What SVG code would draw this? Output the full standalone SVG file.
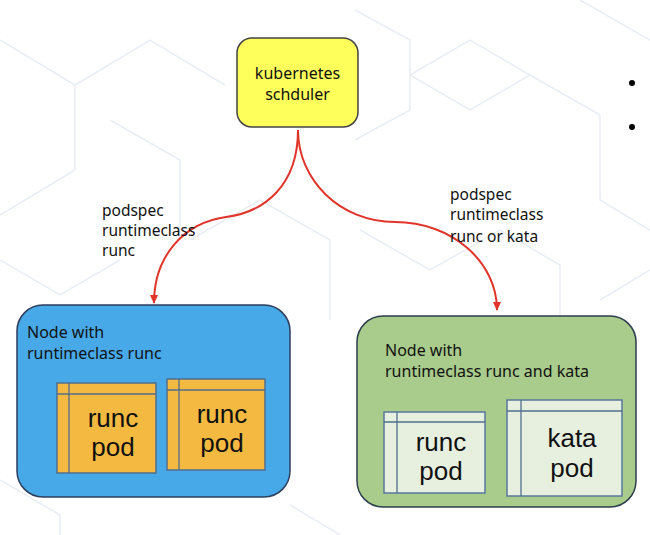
<svg xmlns="http://www.w3.org/2000/svg" width="650" height="535" viewBox="0 0 650 535">
<defs>
<marker id="ah" markerWidth="10" markerHeight="10" refX="8" refY="5" orient="auto" markerUnits="userSpaceOnUse">
<path d="M0,1 L9,5 L0,9 Z" fill="#e0352b"/>
</marker>
<style>
.bg{fill:none;stroke:#e9eef5;stroke-width:1.5}
.t{font-family:"Noto Sans","Open Sans",sans-serif;fill:#111}
.lbl{font-size:15.5px}
.pt{font-family:"Liberation Sans",Arial,sans-serif;font-size:26px;text-anchor:middle;fill:#111}
.edge{fill:none;stroke:#e0352b;stroke-width:2;marker-end:url(#ah)}
.pod1{fill:#f4b940;stroke:#4f6f8f;stroke-width:1.5}
.pod2{fill:#e7efdf;stroke:#5a78a0;stroke-width:1.5}
.pl{stroke:#4f6f8f;stroke-width:1.3;fill:none}
</style>
</defs>
<rect width="650" height="535" fill="#ffffff"/>
<g id="background">
<path class="bg" d="M0,40 L75,85 L75,170 L0,215"/>
<path class="bg" d="M75,85 L150,40 L225,85"/>
<path class="bg" d="M410,75 L470,40 L530,75 L470,110 Z"/>
<path class="bg" d="M355,10 L410,40 L410,110 L355,140"/>
<path class="bg" d="M530,75 L600,115 L600,200 L650,230"/>
<path class="bg" d="M190,240 L260,200 L330,240 L330,320"/>
<path class="bg" d="M0,260 L60,295 L120,260"/>
<path class="bg" d="M360,230 L430,270 L500,230 L560,265 L560,330"/>
<path class="bg" d="M580,0 L650,40"/>
<path class="bg" d="M0,480 L60,515 L60,535"/>
<path class="bg" d="M290,505 L340,535"/>
<path class="bg" d="M600,300 L650,270"/>
<path class="bg" d="M110,120 L180,160 L180,240"/>
</g>
<g id="connectors">
<path class="edge" d="M298,130 C298,185 265,212 226,217 C182,223 154,258 154,303"/>
<path class="edge" d="M298,130 C298,180 340,222 395,222 C452,222 497,262 497,310"/>
<text class="t lbl"><tspan x="102" y="216">podspec</tspan><tspan x="102" y="236">runtimeclass</tspan><tspan x="102" y="256">runc</tspan></text>
<text class="t lbl"><tspan x="450" y="200">podspec</tspan><tspan x="450" y="220">runtimeclass</tspan><tspan x="450" y="242">runc or kata</tspan></text>
</g>
<g id="scheduler">
<rect x="237" y="38" width="121" height="89" rx="15" fill="#ffff5c" stroke="#444" stroke-width="1.5"/>
<text class="t" font-size="16" text-anchor="middle"><tspan x="297.5" y="79">kubernetes</tspan><tspan x="297.5" y="100">schduler</tspan></text>
</g>
<g id="bullets">
<circle cx="632" cy="83" r="3" fill="#000"/>
<circle cx="632" cy="127" r="3" fill="#000"/>
</g>
<g id="node-runc">
<rect x="17" y="305" width="273" height="192" rx="26" fill="#48a9e8" stroke="#2d3e5c" stroke-width="1.5"/>
<text class="t" font-size="16"><tspan x="27" y="338">Node with</tspan><tspan x="27" y="359">runtimeclass runc</tspan></text>
</g>
<g id="pod-runc-1">
<rect class="pod1" x="57" y="383" width="99" height="90"/>
<line class="pl" x1="57" y1="394" x2="156" y2="394"/>
<line class="pl" x1="69" y1="383" x2="69" y2="473"/>
<text class="pt"><tspan x="113" y="427">runc</tspan><tspan x="113" y="456">pod</tspan></text>
</g>
<g id="pod-runc-2">
<rect class="pod1" x="167" y="379" width="98" height="91"/>
<line class="pl" x1="167" y1="390" x2="265" y2="390"/>
<line class="pl" x1="179" y1="379" x2="179" y2="470"/>
<text class="pt"><tspan x="222" y="423">runc</tspan><tspan x="222" y="452">pod</tspan></text>
</g>
<g id="node-runc-kata">
<rect x="357" y="316" width="279" height="191" rx="26" fill="#a9cb8b" stroke="#2d3e4c" stroke-width="1.5"/>
<text class="t" font-size="16"><tspan x="385" y="356">Node with</tspan><tspan x="385" y="377">runtimeclass runc and kata</tspan></text>
</g>
<g id="pod-runc-3">
<rect class="pod2" x="384" y="412" width="101" height="81"/>
<line class="pl" x1="384" y1="422" x2="485" y2="422" stroke="#5a78a0"/>
<line class="pl" x1="397" y1="412" x2="397" y2="493" stroke="#5a78a0"/>
<text class="pt"><tspan x="441" y="451">runc</tspan><tspan x="441" y="480">pod</tspan></text>
</g>
<g id="pod-kata">
<rect class="pod2" x="507" y="400" width="115" height="96"/>
<line class="pl" x1="507" y1="411" x2="622" y2="411" stroke="#5a78a0"/>
<line class="pl" x1="521" y1="400" x2="521" y2="496" stroke="#5a78a0"/>
<text class="pt"><tspan x="572" y="447">kata</tspan><tspan x="572" y="477">pod</tspan></text>
</g>
</svg>
